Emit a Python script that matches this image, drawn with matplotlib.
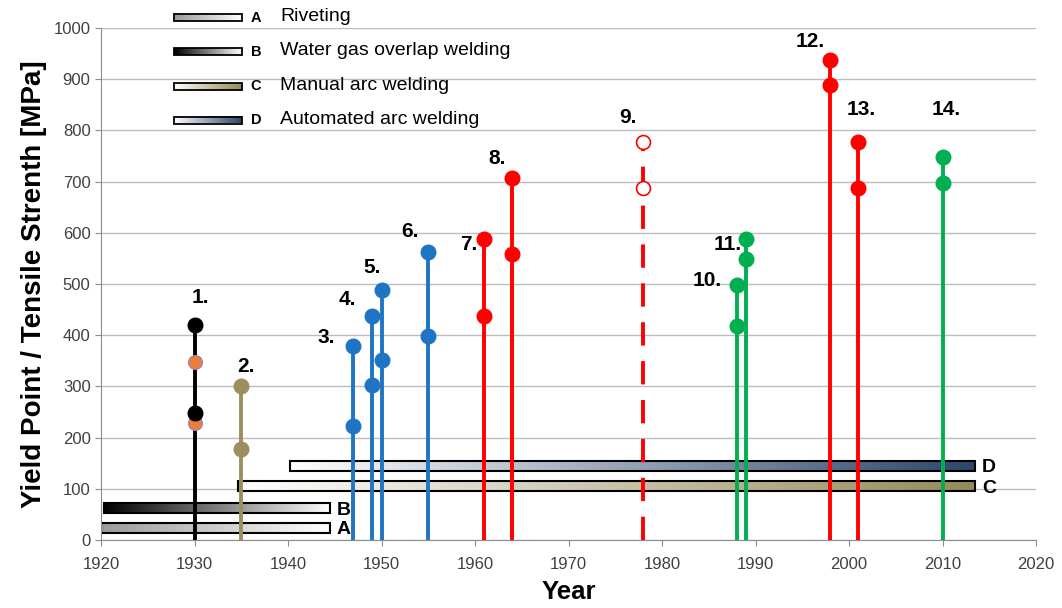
import numpy as np
import matplotlib
matplotlib.use("Agg")
import matplotlib.pyplot as plt
from matplotlib.colors import LinearSegmentedColormap
from matplotlib.patches import Rectangle

plt.rcParams['font.family'] = ['Liberation Sans', 'DejaVu Sans']

# ---- data ----
labels = ["1.", "2.", "3.", "4.", "5.", "6.", "7.", "8.", "9.", "10.", "11.", "12.", "13.", "14."]
years = [1930, 1935, 1947, 1949, 1950, 1955, 1961, 1964, 1978, 1988, 1989, 1998, 2001, 2010]
upper = [420, 300, 378, 438, 488, 563, 588, 708, 778, 498, 588, 938, 778, 748]
lower = [248, 178, 222, 302, 352, 398, 438, 558, 688, 418, 548, 888, 688, 698]
extra_1930 = [348, 228]
groups = ["black", "olive", "blue", "blue", "blue", "blue", "red", "red", "red_dash",
          "green", "green", "red", "red", "green"]

proc_letters = ["A", "B", "C", "D"]
proc_names = ["Riveting", "Water gas overlap welding", "Manual arc welding", "Automated arc welding"]
proc_start = [1920.0, 1920.3, 1934.6, 1940.2]
proc_end = [1944.5, 1944.5, 2013.5, 2013.5]
proc_low = [14, 53, 96, 135]
proc_high = [34, 72, 115, 155]

# ---- styles ----
colmap = {"black": "#000000", "olive": "#9b8f5e", "blue": "#1f74c4", "red": "#ff0000",
          "red_dash": "#ff0000", "green": "#00b050"}
grad = [("#9a9a9a", "#ffffff"), ("#000000", "#ffffff"), ("#ffffff", "#958a5c"), ("#ffffff", "#2c466b")]
label_off = [(0.6, 53), (0.5, 38), (-2.9, 17), (-2.7, 31), (-1.0, 45), (-2.0, 39), (-1.7, -10),
             (-1.6, 38), (-1.6, 48), (-3.2, 8), (-2.0, -10), (-2.2, 35), (0.3, 62), (0.4, 92)]

fig = plt.figure(figsize=(10.62, 6.08), dpi=100)
ax = fig.add_axes([101/1062, 1-540/608, 935/1062, 512/608])
ax.set_xlim(1920, 2020)
ax.set_ylim(0, 1000)

# gradient bars
for i in range(4):
    cm = LinearSegmentedColormap.from_list("g%d" % i, list(grad[i]))
    g = np.linspace(0, 1, 256).reshape(1, -1)
    ax.imshow(g, cmap=cm, extent=[proc_start[i], proc_end[i], proc_low[i], proc_high[i]],
              aspect='auto', zorder=2, interpolation='bilinear')
    ax.add_patch(Rectangle((proc_start[i], proc_low[i]), proc_end[i]-proc_start[i],
                           proc_high[i]-proc_low[i], fill=False, edgecolor='black', lw=1.5, zorder=2.1))
    ax.text(proc_end[i] + 0.7, (proc_low[i]+proc_high[i])/2 - 4, proc_letters[i], fontsize=14,
            fontweight='bold', ha='left', va='center', zorder=5)
ax.set_xlim(1920, 2020)
ax.set_ylim(0, 1000)

# stems and markers
for i, yr in enumerate(years):
    c = colmap[groups[i]]
    if groups[i] == "red_dash":
        ax.plot([yr, yr], [0, upper[i]], color=c, lw=2.8, ls=(0, (6, 4)), zorder=3)
        ax.plot([yr, yr], [upper[i], lower[i]], ls='none', marker='o', ms=10,
                mfc='white', mec=c, mew=1.2, zorder=4)
    else:
        ax.plot([yr, yr], [0, upper[i]], color=c, lw=2.8, zorder=3)
        if groups[i] == "black":
            ax.plot([yr]*len(extra_1930), extra_1930, ls='none', marker='o', ms=10,
                    mfc='#e8803a', mec='#9a7fb8', mew=0.8, zorder=3.5)
        ax.plot([yr, yr], [upper[i], lower[i]], ls='none', marker='o', ms=10.5,
                color=c, zorder=4)
    dx, dy = label_off[i]
    ax.text(yr + dx, upper[i] + dy, labels[i], fontsize=15, fontweight='bold',
            ha='center', va='center', zorder=5)

# axes style
ax.yaxis.grid(True, color='#bdbdbd', lw=1)
ax.set_axisbelow(True)
ax.set_xticks(np.arange(1920, 2021, 10))
ax.set_yticks(np.arange(0, 1001, 100))
for s in ['top', 'right']:
    ax.spines[s].set_visible(False)
for s in ['left', 'bottom']:
    ax.spines[s].set_color('#8c8c8c')
ax.tick_params(axis='both', colors='#8c8c8c', labelcolor='#404040', labelsize=12, length=4)
ax.tick_params(axis='x', pad=8)
ax.set_xlabel("Year", fontsize=18.5, fontweight='bold', labelpad=6)
ax.set_ylabel("Yield Point / Tensile Strenth [MPa]", fontsize=20, fontweight='bold', labelpad=5)

# legend overlay (pixel coordinates)
lax = fig.add_axes([0, 0, 1, 1])
lax.set_xlim(0, 1062)
lax.set_ylim(608, 0)
lax.axis('off')
lax.patch.set_alpha(0)
leg_y = [17.5, 51.5, 86.5, 120]
for i in range(4):
    cm = LinearSegmentedColormap.from_list("lg%d" % i, list(grad[i]))
    g = np.linspace(0, 1, 256).reshape(1, -1)
    lax.imshow(g, cmap=cm, extent=[174, 242, leg_y[i]+3.5, leg_y[i]-3.5], aspect='auto',
               zorder=2, interpolation='bilinear')
    lax.add_patch(Rectangle((174, leg_y[i]-3.5), 68, 7, fill=False, edgecolor='black', lw=1.3, zorder=3))
    lax.text(256, leg_y[i], proc_letters[i], fontsize=10.5, fontweight='bold', ha='center', va='center')
    lax.text(280, leg_y[i]-1, proc_names[i], fontsize=14, ha='left', va='center')
lax.set_xlim(0, 1062)
lax.set_ylim(608, 0)

fig.savefig("out.png", dpi=100)
